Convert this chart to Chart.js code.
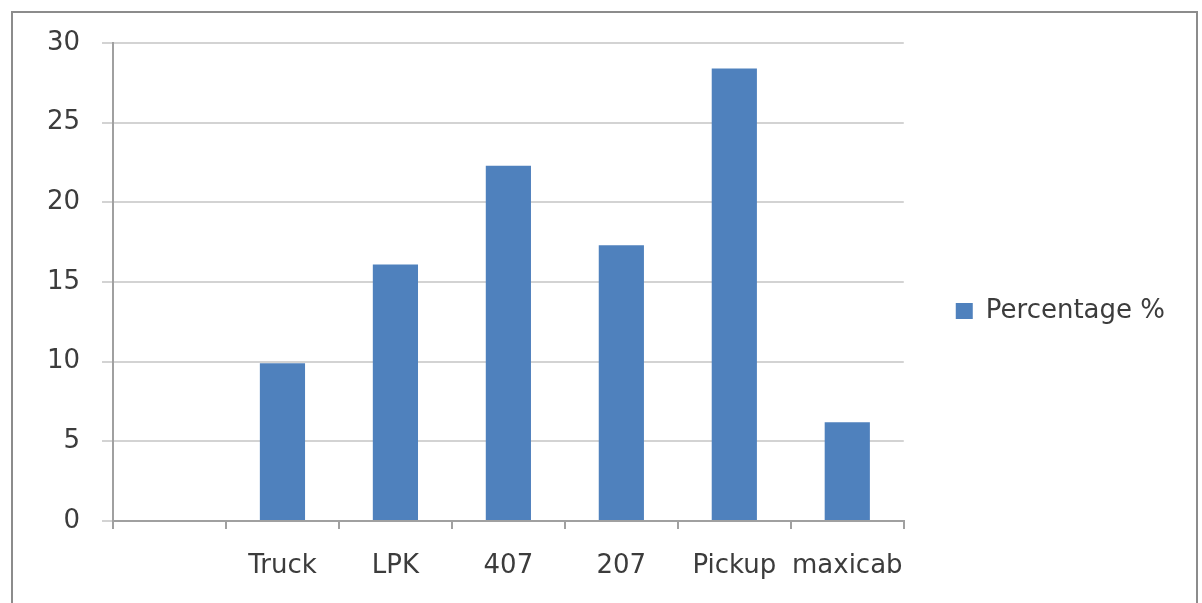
<!DOCTYPE html>
<html>
<head>
<meta charset="utf-8">
<script src="https://cdn.jsdelivr.net/npm/chart.js@4/dist/chart.umd.min.js"></script>
<style>
  html, body { margin: 0; padding: 0; background: #ffffff; }
  #wrap { position: relative; width: 1202px; height: 603px; overflow: hidden; }
  #frame { position: absolute; left: 11px; top: 11px; width: 1187px; height: 700px;
           box-sizing: border-box; border: 2px solid #8c8c8c; }
  #chart { position: absolute; left: 0; top: 0; }
</style>
</head>
<body>
<div id="wrap">
  <div id="frame"></div>
  <canvas id="chart" width="1202" height="603"></canvas>
</div>
<script>
// Vehicle types (the first slot is left blank, as in the sheet it came from)
const categories = ['', 'Truck', 'LPK', '407', '207', 'Pickup', 'maxicab'];
// Share of each vehicle type, in percent
const percentages = [null, 9.9, 16.1, 22.3, 17.3, 28.4, 6.2];
const seriesName = 'Percentage %';
const yTicks = [0, 5, 10, 15, 20, 25, 30];

const textColor = '#3c3c3c';
const barColor = '#4f81bd';
const gridColor = '#d3d3d3';
const axisColor = '#a0a0a0';
const font = { family: '"DejaVu Sans", Verdana, sans-serif', size: 26 };

new Chart(document.getElementById('chart'), {
  type: 'bar',
  data: {
    labels: categories,
    datasets: [{
      label: seriesName,
      data: percentages,
      backgroundColor: barColor,
      borderWidth: 0,
      barPercentage: 0.4,
      categoryPercentage: 1.0
    }]
  },
  options: {
    responsive: false,
    animation: false,
    layout: { padding: { left: 0, top: 43, right: 27, bottom: 24 } },
    plugins: {
      tooltip: { enabled: false },
      legend: {
        position: 'right',
        align: 'center',
        labels: {
          color: textColor,
          font: font,
          boxWidth: 17,
          boxHeight: 16,
          padding: 52
        }
      }
    },
    scales: {
      x: {
        offset: true,
        grid: {
          offset: true,
          display: true,
          drawOnChartArea: false,
          drawTicks: true,
          tickLength: 8,
          tickColor: axisColor,
          tickWidth: 2,
          color: axisColor,
          lineWidth: 2
        },
        border: { display: true, color: axisColor, width: 2 },
        ticks: { color: textColor, font: font, padding: 22, maxRotation: 0, autoSkip: false },
        afterFit: (scale) => { scale.height = 58; }
      },
      y: {
        min: yTicks[0],
        max: yTicks[yTicks.length - 1],
        afterBuildTicks: (scale) => { scale.ticks = yTicks.map(v => ({ value: v })); },
        grid: {
          color: gridColor,
          lineWidth: 2,
          drawTicks: true,
          tickLength: 11,
          tickColor: gridColor,
          tickWidth: 2
        },
        border: { display: true, color: axisColor, width: 2 },
        ticks: { color: textColor, font: font, padding: 22 },
        afterFit: (scale) => { scale.width = 113; }
      }
    }
  }
});
</script>
</body>
</html>
